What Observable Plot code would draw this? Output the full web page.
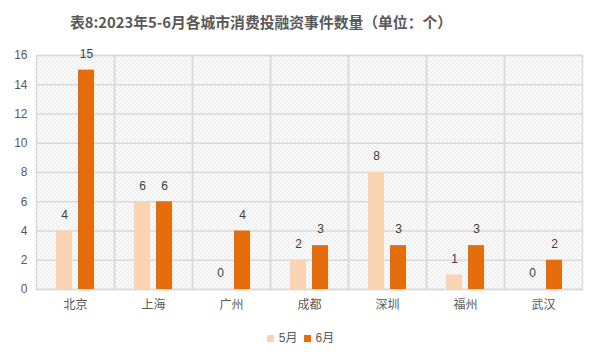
<!DOCTYPE html>
<html>
<head>
<meta charset="utf-8">
<script src="https://cdn.jsdelivr.net/npm/d3@7"></script>
<script src="https://cdn.jsdelivr.net/npm/@observablehq/plot@0.6"></script>
<style>
  body { margin: 0; background: #fff; width: 601px; overflow: hidden; }
  #title { width: 522px; height: 40px; padding-top: 2px; line-height: 40px; text-align: center;
    font-family: "Noto Sans CJK SC", sans-serif; font-weight: bold; font-size: 14.8px; color: #595959; white-space: nowrap; }
  #legend { height: 32px; line-height: 32px; text-align: center; font-family: "Liberation Sans", "Noto Sans CJK SC", sans-serif;
    font-size: 12px; color: #595959; }
  #legend span.sw { display: inline-block; width: 7px; height: 7px; margin-right: 5px; vertical-align: 0px; }
  #legend span.it { margin: 0 3px; }
</style>
</head>
<body>
<div id="title">表8:2023年5-6月各城市消费投融资事件数量（单位：个）</div>
<div id="chart"></div>
<div id="legend"></div>
<script>
const cities = ["北京", "上海", "广州", "成都", "深圳", "福州", "武汉"];
const series = ["5月", "6月"];
const may = [4, 6, 0, 2, 8, 1, 0];
const june = [15, 6, 4, 3, 3, 3, 2];
const yTicks = [0, 2, 4, 6, 8, 10, 12, 14, 16];
const colors = ["#FAD3B2", "#E46C0A"];

const data = cities.flatMap((c, i) => [
  {city: c, s: series[0], v: may[i]},
  {city: c, s: series[1], v: june[i]}
]);

const svg = Plot.plot({
  width: 601,
  height: 280,
  marginLeft: 34,
  marginRight: 18,
  marginTop: 13,
  marginBottom: 33,
  style: {fontFamily: '"Liberation Sans", "Noto Sans CJK SC", sans-serif', fontSize: "12px", color: "#595959", background: "white"},
  fx: {domain: cities, padding: 0, label: null, tickSize: 0, tickPadding: 11, axis: "bottom"},
  x: {domain: series, paddingInner: 0.273, paddingOuter: 0.909, axis: null},
  y: {domain: [0, 16], ticks: yTicks, tickSize: 0, tickPadding: 9, label: null},
  color: {domain: series, range: colors},
  marks: [
    Plot.frame({fill: "url(#hatch)", stroke: "none"}),
    Plot.gridY(yTicks, {stroke: "#d9d9d9", strokeOpacity: 1, strokeWidth: 1.5}),
    Plot.frame({stroke: "#d9d9d9", strokeWidth: 1.5}),
    Plot.barY(data, {fx: "city", x: "s", y: "v", fill: "s"}),
    Plot.text(data, {fx: "city", x: "s", y: "v", text: d => String(d.v), dy: -16, fill: "#404040", fontSize: 12})
  ]
});

const ns = "http://www.w3.org/2000/svg";
const defs = document.createElementNS(ns, "defs");
defs.innerHTML = '<pattern id="hatch" patternUnits="userSpaceOnUse" width="4" height="4">' +
  '<rect width="4" height="4" fill="white"/>' +
  '<path d="M-1,-1 L5,5 M3,-1 L5,1 M-1,3 L1,5" stroke="#cccccc" stroke-width="0.8"/></pattern>';
svg.insertBefore(defs, svg.firstChild);
document.getElementById("chart").appendChild(svg);

const legend = document.getElementById("legend");
series.forEach((s, i) => {
  const it = document.createElement("span");
  it.className = "it";
  const sw = document.createElement("span");
  sw.className = "sw";
  sw.style.background = colors[i];
  it.appendChild(sw);
  it.appendChild(document.createTextNode(s));
  legend.appendChild(it);
});
</script>
</body>
</html>
